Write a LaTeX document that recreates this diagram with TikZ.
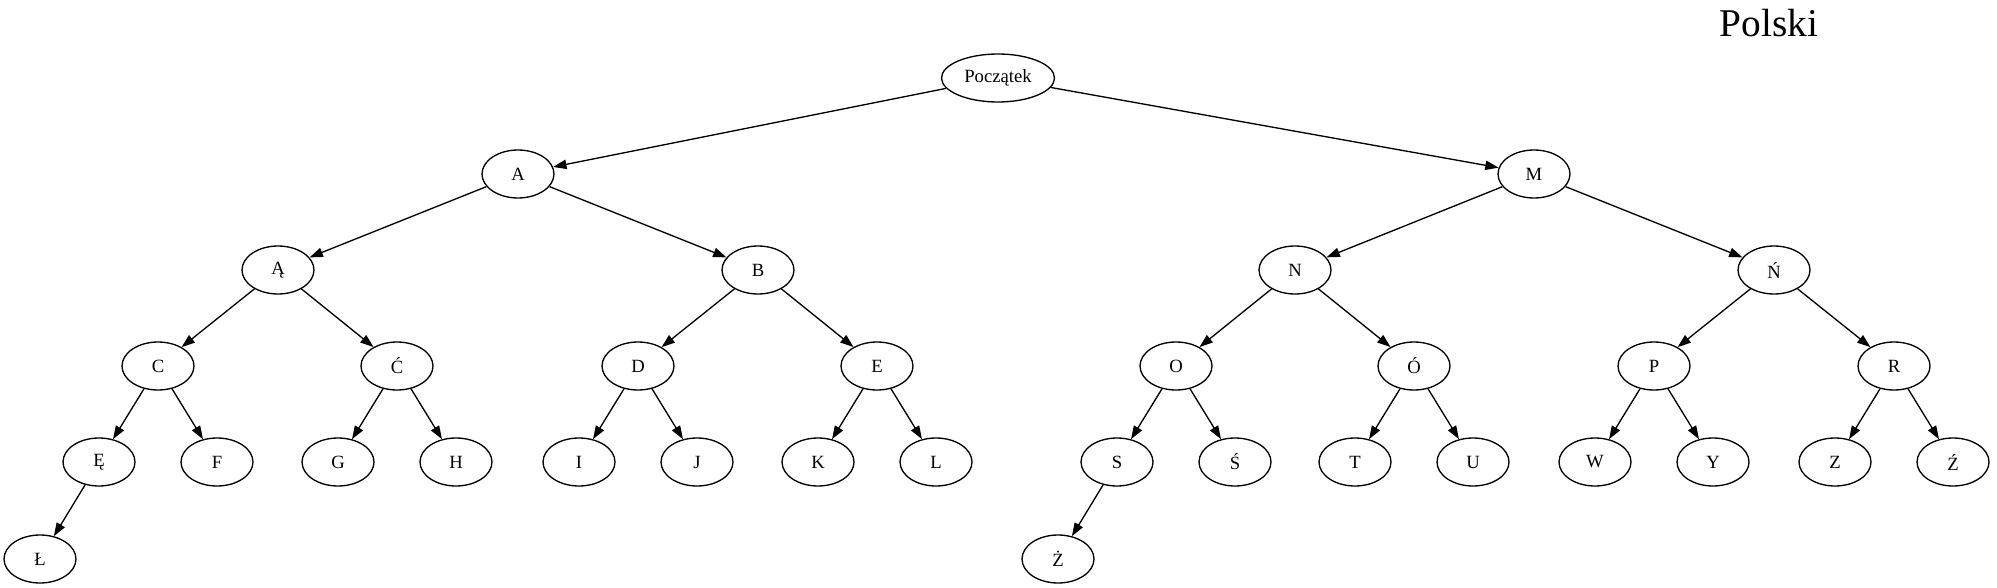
\documentclass[tikz,border=0pt]{standalone}
\usepackage{fontspec}
\setmainfont{Liberation Serif}
\usetikzlibrary{shapes.geometric,arrows.meta}
\begin{document}
\begin{tikzpicture}[x=0.75pt,y=-0.75pt,
  nd/.style={ellipse,draw,line width=1pt,minimum width=54pt,minimum height=36pt,inner sep=0pt,font=\fontsize{14}{16}\selectfont},
  ed/.style={line width=1pt,-{Triangle[length=10pt,width=7pt]}}]
\useasboundingbox (0,0) rectangle (1997,588);
\node[anchor=base,font=\fontsize{29.5}{34}\selectfont] (title) at (1769,37) {Polski};
\node[nd,minimum width=84.75pt] (root) at (998,78) {Początek};
\node[nd] (A) at (518,174) {A};
\node[nd] (M) at (1534,174) {M};
\node[nd] (Aa) at (278,270) {Ą};
\node[nd] (B) at (758,270) {B};
\node[nd] (N) at (1295,270) {N};
\node[nd] (Nn) at (1774,270) {Ń};
\node[nd] (C) at (158,366) {C};
\node[nd] (Cc) at (397,366) {Ć};
\node[nd] (D) at (638,366) {D};
\node[nd] (E) at (877,366) {E};
\node[nd] (O) at (1176,366) {O};
\node[nd] (Oo) at (1414,366) {Ó};
\node[nd] (P) at (1654,366) {P};
\node[nd] (R) at (1894,366) {R};
\node[nd] (Ee) at (99,462) {Ę};
\node[nd] (F) at (217,462) {F};
\node[nd] (G) at (338,462) {G};
\node[nd] (H) at (456,462) {H};
\node[nd] (I) at (579,462) {I};
\node[nd] (J) at (697,462) {J};
\node[nd] (K) at (818,462) {K};
\node[nd] (L) at (936,462) {L};
\node[nd] (S) at (1117,462) {S};
\node[nd] (Ss) at (1235,462) {Ś};
\node[nd] (T) at (1355,462) {T};
\node[nd] (U) at (1473,462) {U};
\node[nd] (W) at (1595,462) {W};
\node[nd] (Y) at (1713,462) {Y};
\node[nd] (Z) at (1835,462) {Z};
\node[nd] (Zz) at (1953,462) {Ź};
\node[nd] (Ll) at (40,559) {Ł};
\node[nd] (Zd) at (1058,559) {Ż};
\draw[ed] (root) -- (A);
\draw[ed] (root) -- (M);
\draw[ed] (A) -- (Aa);
\draw[ed] (A) -- (B);
\draw[ed] (M) -- (N);
\draw[ed] (M) -- (Nn);
\draw[ed] (Aa) -- (C);
\draw[ed] (Aa) -- (Cc);
\draw[ed] (B) -- (D);
\draw[ed] (B) -- (E);
\draw[ed] (N) -- (O);
\draw[ed] (N) -- (Oo);
\draw[ed] (Nn) -- (P);
\draw[ed] (Nn) -- (R);
\draw[ed] (C) -- (Ee);
\draw[ed] (C) -- (F);
\draw[ed] (Cc) -- (G);
\draw[ed] (Cc) -- (H);
\draw[ed] (D) -- (I);
\draw[ed] (D) -- (J);
\draw[ed] (E) -- (K);
\draw[ed] (E) -- (L);
\draw[ed] (O) -- (S);
\draw[ed] (O) -- (Ss);
\draw[ed] (Oo) -- (T);
\draw[ed] (Oo) -- (U);
\draw[ed] (P) -- (W);
\draw[ed] (P) -- (Y);
\draw[ed] (R) -- (Z);
\draw[ed] (R) -- (Zz);
\draw[ed] (Ee) -- (Ll);
\draw[ed] (S) -- (Zd);
\end{tikzpicture}
\end{document}
